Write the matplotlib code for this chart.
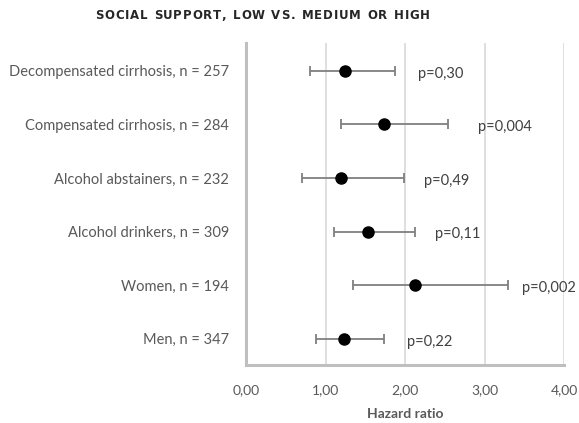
import matplotlib
matplotlib.use("Agg")
import matplotlib.pyplot as plt
from matplotlib.ticker import FuncFormatter

plt.rcParams['font.family'] = ['Lato', 'DejaVu Sans']

categories = ["Men, n = 347", "Women, n = 194", "Alcohol drinkers, n = 309",
              "Alcohol abstainers, n = 232", "Compensated cirrhosis, n = 284",
              "Decompensated cirrhosis, n = 257"]
hr = [1.23, 2.12, 1.53, 1.19, 1.73, 1.24]
ci_low = [0.88, 1.34, 1.11, 0.71, 1.19, 0.80]
ci_high = [1.74, 3.30, 2.13, 1.99, 2.54, 1.88]
p_labels = ["p=0,22", "p=0,002", "p=0,11", "p=0,49", "p=0,004", "p=0,30"]
label_offsets = [16, 10, 14, 14, 22, 16]  # points right of upper CI
x_ticks = [0, 1, 2, 3, 4]
title = "SOCIAL SUPPORT, LOW VS. MEDIUM OR HIGH"

fig = plt.figure(figsize=(5.79, 4.23), dpi=100)
ax = fig.add_axes([0.4249, 0.1371, 0.5492, 0.7612])

ypos = list(range(len(categories)))
err = [[h - l for h, l in zip(hr, ci_low)], [u - h for h, u in zip(hr, ci_high)]]
ax.errorbar(hr, ypos, xerr=err, fmt='o', color='black', markersize=8,
            ecolor='#7f7f7f', elinewidth=1.3, capsize=3.5, capthick=1.3, zorder=3)

for y, hi, lab, off in zip(ypos, ci_high, p_labels, label_offsets):
    ax.annotate(lab, xy=(hi, y), xytext=(off, -2), textcoords='offset points',
                ha='left', va='center', fontsize=10.5, color='#404040')

ax.set_xlim(0, 4)
ax.set_ylim(-0.49, 5.52)
ax.set_xticks(x_ticks)
ax.xaxis.set_major_formatter(FuncFormatter(lambda v, p: f"{v:.2f}".replace('.', ',')))
ax.set_yticks(ypos)
ax.set_yticklabels(categories)
ax.tick_params(axis='y', length=0, labelsize=10.5, colors='#595959', pad=12)
ax.tick_params(axis='x', length=0, labelsize=10, colors='#595959', pad=14)
ax.grid(axis='x', color='#d9d9d9', linewidth=1.2)
ax.set_axisbelow(True)
for s in ['top', 'right']:
    ax.spines[s].set_visible(False)
for s in ['left', 'bottom']:
    ax.spines[s].set_color('#bfbfbf')
    ax.spines[s].set_linewidth(2.2)

ax.set_xlabel("Hazard ratio", fontsize=10, fontweight='bold', color='#595959', labelpad=8)

# Title with wide letter spacing, drawn character by character
fig.canvas.draw()
renderer = fig.canvas.get_renderer()
W = fig.bbox.width
tkw = dict(fontsize=8.5, fontweight='bold', color='#262626', family=['DejaVu Sans'],
           va='center', ha='left')
widths = []
for ch in title:
    t = fig.text(0, 0, ch if ch != ' ' else 'n', **tkw)
    w = t.get_window_extent(renderer).width
    if ch == ' ':
        w *= 0.6
    widths.append(w)
    t.remove()
target_left, target_right = 95.0, 430.0
extra = (target_right - target_left - sum(widths)) / (len(title) - 1)
x = target_left
for ch, w in zip(title, widths):
    if ch != ' ':
        fig.text(x / W, 0.964, ch, **tkw)
    x += w + extra

fig.savefig("out.png", dpi=100)
